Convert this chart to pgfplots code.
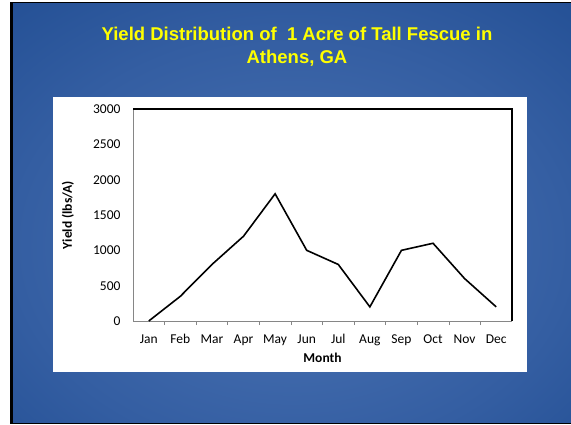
\documentclass[border=0pt]{standalone}
\usepackage{fontspec}
\setmainfont{Carlito}
\newfontfamily\titlefont{Liberation Sans}
\usepackage{pgfplots}
\pgfplotsset{compat=1.18}
\definecolor{bgA}{RGB}{76,116,180}
\definecolor{bgB}{RGB}{52,94,162}
\definecolor{bgC}{RGB}{22,68,138}
\definecolor{bgD}{RGB}{4,48,116}
\definecolor{titleyellow}{RGB}{255,255,0}
\definecolor{axisgray}{RGB}{134,134,134}
\pgfdeclareradialshading{bgshade}{\pgfpoint{0bp}{-5bp}}{color(0bp)=(bgA); color(25bp)=(bgB); color(50bp)=(bgC); color(71bp)=(bgD); color(100bp)=(bgD)}
\begin{document}
\begin{tikzpicture}[x=1pt,y=1pt]
\path[fill=white] (0,0) rectangle (571,424);
\fill[black] (10,0.5) rectangle (571,422);
\shade[shading=bgshade] (13,1.5) rectangle (571,420);
\fill[white] (53,52) rectangle (527,327);
\node[font=\titlefont\bfseries\fontsize{18.5}{22.5}\selectfont, text=titleyellow, align=center] at (297,377.5) {Yield Distribution of\ \ 1 Acre of Tall Fescue in\\Athens, GA};
\begin{axis}[
  at={(133pt,103pt)}, anchor=south west,
  scale only axis, width=379pt, height=212pt,
  xmin=-0.5, xmax=11.5, ymin=0, ymax=3000,
  axis x line*=bottom, axis y line*=left,
  axis line style={axisgray, line width=0.8pt},
  xtick={0,...,11},
  xticklabels={Jan,Feb,Mar,Apr,May,Jun,Jul,Aug,Sep,Oct,Nov,Dec},
  minor xtick={0.5,1.5,...,10.5},
  ytick={0,500,...,3000},
  major tick length=0pt,
  minor tick length=4pt,
  xtick align=outside,
  every minor tick/.style={axisgray, line width=0.6pt},
  tick label style={font=\fontsize{13.5}{15}\selectfont, text=black},
  /pgf/number format/assume math mode=true,
  /pgf/number format/1000 sep={},
  yticklabel style={xshift=-9pt},
  xticklabel style={text height=9pt, text depth=3pt, yshift=-10pt},
  xlabel={\bfseries Month},
  ylabel={\bfseries Yield (lbs/A)},
  label style={font=\fontsize{13.5}{15}\selectfont},
  xlabel style={at={(axis description cs:0.5,0)}, anchor=base, yshift=-41.5pt},
  ylabel style={at={([xshift=-65pt]axis description cs:0,0.5)}, anchor=center},
  clip=false,
]
\draw[black, line width=1.6pt] (rel axis cs:0,1) -- (rel axis cs:1,1) -- (rel axis cs:1,0);
\addplot[black, line width=1.6pt, mark=none] coordinates {
  (0,0) (1,350) (2,800) (3,1200) (4,1800) (5,1000)
  (6,800) (7,200) (8,1000) (9,1100) (10,600) (11,200)
};
\end{axis}
\end{tikzpicture}
\end{document}
